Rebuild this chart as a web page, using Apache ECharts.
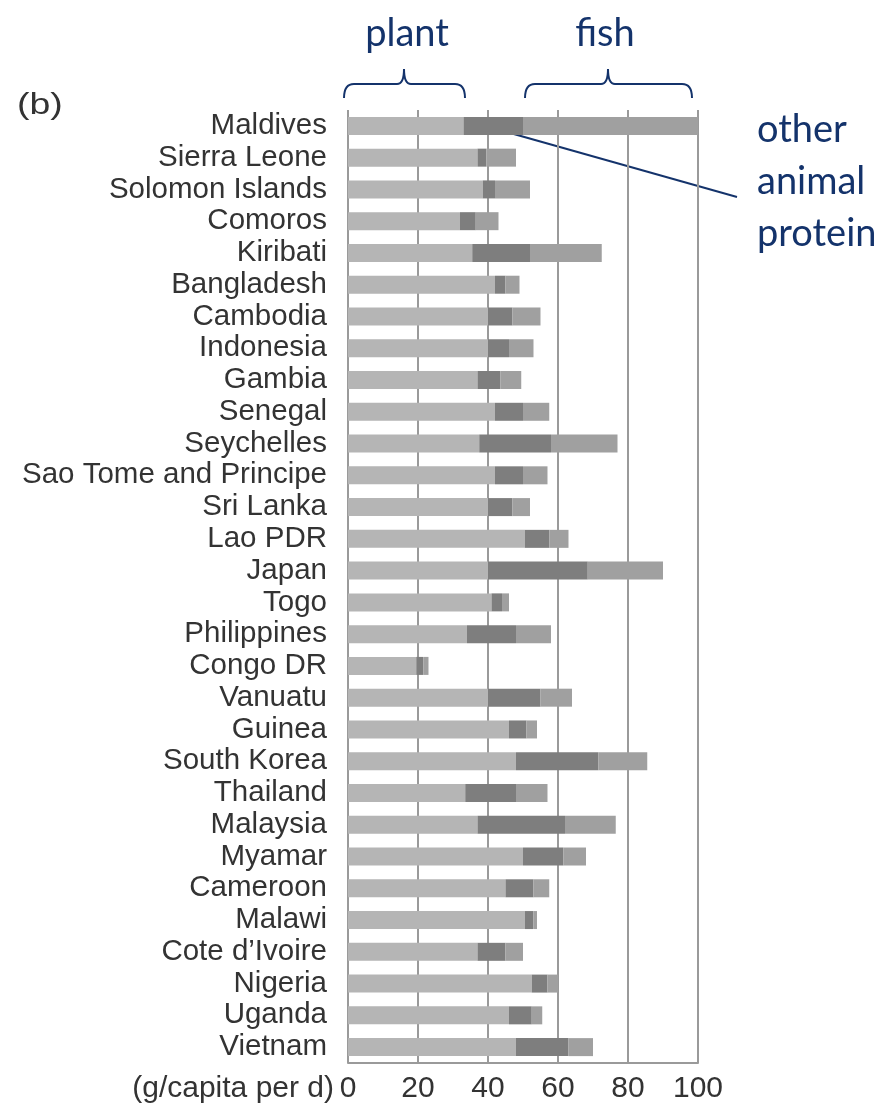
<!DOCTYPE html>
<html>
<head>
<meta charset="utf-8">
<title>Protein supply by source</title>
<script src="https://cdn.jsdelivr.net/npm/echarts/dist/echarts.min.js"></script>
<style>
  html, body { margin: 0; padding: 0; background: #ffffff; }
  #chart { width: 885px; height: 1108px; }
</style>
</head>
<body>
<div id="chart"></div>
<script>
// Countries, top to bottom
const countries = ['Maldives', 'Sierra Leone', 'Solomon Islands', 'Comoros', 'Kiribati',
  'Bangladesh', 'Cambodia', 'Indonesia', 'Gambia', 'Senegal', 'Seychelles',
  'Sao Tome and Principe', 'Sri Lanka', 'Lao PDR', 'Japan', 'Togo', 'Philippines',
  'Congo DR', 'Vanuatu', 'Guinea', 'South Korea', 'Thailand', 'Malaysia', 'Myamar',
  'Cameroon', 'Malawi', 'Cote d\u2019Ivoire', 'Nigeria', 'Uganda', 'Vietnam'];

// Protein supply, g/capita per day
const plantProtein = [33, 37, 38.5, 32, 35.5, 42, 40, 40, 37, 42, 37.5, 42, 40, 50.5, 40,
  41, 34, 19.5, 40, 46, 48, 33.5, 37, 50, 45, 50.5, 37, 52.5, 46, 48];
const otherAnimalProtein = [17, 2.5, 3.5, 4.5, 16.5, 3, 7, 6, 6.5, 8, 20.5, 8, 7, 7, 28.5,
  3, 14, 2, 15, 5, 23.5, 14.5, 25, 11.5, 8, 2.5, 8, 4.5, 6.5, 15];
const fishProtein = [50, 8.5, 10, 6.5, 20.5, 4, 8, 7, 6, 7.5, 19, 7, 5, 5.5, 21.5,
  2, 10, 1.5, 9, 3, 14, 9, 14.5, 6.5, 4.5, 1, 5, 3, 3, 7];

const axisTicks = [0, 20, 40, 60, 80, 100];

const navy = '#14336b';
const labelFont = '"Liberation Sans", Arial, sans-serif';
const noteFont = 'Lato, "Open Sans", sans-serif';

// Curly brace drawn above the plot
function brace(left, right, apex) {
  const yEnd = 98, yMid = 84, yTop = 69, r = 10, a = 7;
  const ls = { stroke: navy, lineWidth: 2, fill: null };
  return [
    { type: 'bezierCurve', shape: { x1: left, y1: yEnd, cpx1: left, cpy1: yMid, x2: left + r, y2: yMid }, style: ls },
    { type: 'line', shape: { x1: left + r, y1: yMid, x2: apex - a, y2: yMid }, style: ls },
    { type: 'bezierCurve', shape: { x1: apex - a, y1: yMid, cpx1: apex, cpy1: yMid, x2: apex, y2: yTop }, style: ls },
    { type: 'bezierCurve', shape: { x1: apex, y1: yTop, cpx1: apex, cpy1: yMid, x2: apex + a, y2: yMid }, style: ls },
    { type: 'line', shape: { x1: apex + a, y1: yMid, x2: right - r, y2: yMid }, style: ls },
    { type: 'bezierCurve', shape: { x1: right - r, y1: yMid, cpx1: right, cpy1: yMid, x2: right, y2: yEnd }, style: ls }
  ];
}

function note(text, x, y, align) {
  return {
    type: 'text',
    style: { text: text, x: x, y: y, fill: navy, fontSize: 38, fontFamily: noteFont,
      align: align, verticalAlign: 'middle' }
  };
}

const chart = echarts.init(document.getElementById('chart'), null, { renderer: 'canvas' });

const barStyle = (color) => ({ color: color });

chart.setOption({
  animation: false,
  backgroundColor: '#ffffff',
  grid: { left: 348, right: 187, top: 110, bottom: 45, containLabel: false },
  xAxis: {
    type: 'value',
    min: axisTicks[0],
    max: axisTicks[axisTicks.length - 1],
    interval: axisTicks[1] - axisTicks[0],
    axisLine: { show: true, lineStyle: { color: '#9a9a9a', width: 2 } },
    axisTick: { show: false },
    axisLabel: { fontSize: 30, fontFamily: labelFont, color: '#333333', margin: 11 },
    splitLine: { show: true, lineStyle: { color: '#9a9a9a', width: 2 } }
  },
  yAxis: {
    type: 'category',
    data: countries,
    inverse: true,
    axisLine: { show: false },
    axisTick: { show: false },
    axisLabel: { interval: 0, fontSize: 29.5, fontFamily: labelFont, color: '#333333', margin: 21 },
    splitLine: { show: false }
  },
  series: [
    { name: 'plant', type: 'bar', stack: 'protein', data: plantProtein, barWidth: 18, itemStyle: barStyle('#b5b5b5') },
    { name: 'other animal protein', type: 'bar', stack: 'protein', data: otherAnimalProtein, barWidth: 18, itemStyle: barStyle('#7e7e7e') },
    { name: 'fish', type: 'bar', stack: 'protein', data: fishProtein, barWidth: 18, itemStyle: barStyle('#a0a0a0') }
  ],
  graphic: [
    { type: 'text', x: 17, y: 106, scaleX: 1.25, style: { text: '(b)', x: 0, y: 0, fontSize: 30, fontFamily: labelFont, fill: '#333333', align: 'left', verticalAlign: 'middle' } },
    { type: 'text', style: { text: '(g/capita per d)', x: 334, y: 1089, fontSize: 30, fontFamily: labelFont, fill: '#333333', align: 'right', verticalAlign: 'middle' } },
    note('plant', 407, 34, 'center'),
    note('fish', 605, 34, 'center'),
    note('other', 757, 130, 'left'),
    note('animal', 757, 182, 'left'),
    note('protein', 757, 234, 'left'),
    ...brace(344, 465, 404),
    ...brace(525, 692, 608),
    { type: 'line', shape: { x1: 496, y1: 129, x2: 737, y2: 197 }, style: { stroke: navy, lineWidth: 2 } }
  ]
});
</script>
</body>
</html>
